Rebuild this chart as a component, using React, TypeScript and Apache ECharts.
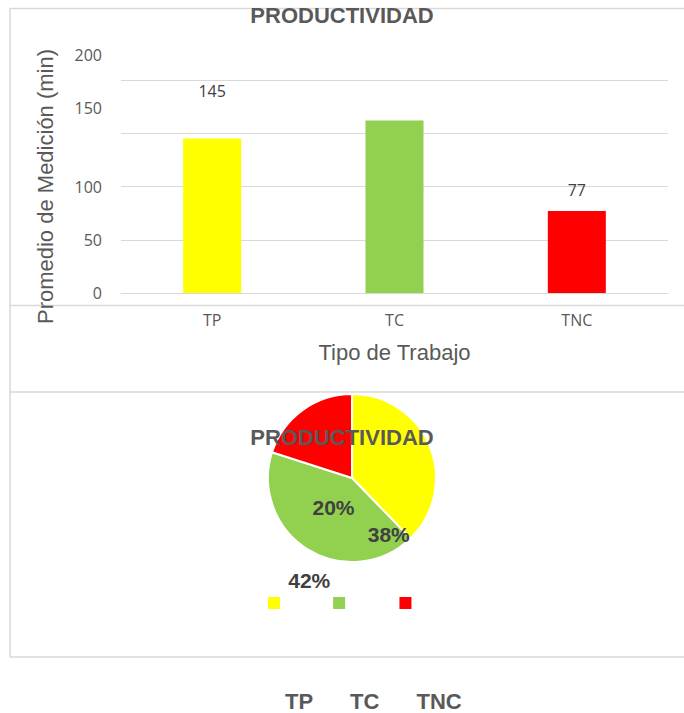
import React, { useEffect, useRef } from "react";
import * as echarts from "echarts";

const categories = ["TP", "TC", "TNC"];
const values = [145, 162, 77];
const colors = ["#FFFF00", "#92D050", "#FF0000"];
const barLabelShown = [true, false, true];
const barLabelOffsets = [[0, -35], [0, 0], [0, -8]];
const pieLabelOffsets = [[-5, 73], [-19, 64], [8, 66]];
const chartTitle = "PRODUCTIVIDAD";
const xAxisName = "Tipo de Trabajo";
const yAxisName = "Promedio de Medición (min)";

export default function App() {
  const ref = useRef<HTMLDivElement>(null);
  useEffect(() => {
    if (!ref.current) return;
    const chart = echarts.init(ref.current, null, { renderer: "svg" });
    const gray = "#595959";
    const dark = "#404040";
    const border = "#d9d9d9";
    const tickFont = { fontFamily: "Open Sans", fontSize: 16, color: gray };
    const legendFont = { fontFamily: "Liberation Sans", fontWeight: "bold", fontSize: 22, color: gray };
    const option: any = {
      animation: false,
      backgroundColor: "#ffffff",
      title: [
        {
          text: chartTitle,
          left: "center",
          top: -1,
          textStyle: { fontFamily: "Liberation Sans", fontWeight: "bold", fontSize: 22, color: gray },
        },
        {
          text: chartTitle,
          left: "center",
          top: 421,
          textStyle: { fontFamily: "Liberation Sans", fontWeight: "bold", fontSize: 22, color: gray },
        },
      ],
      graphic: [
        { type: "line", z: -10, shape: { x1: 10, y1: 8.5, x2: 684, y2: 8.5 }, style: { stroke: border, lineWidth: 1.5 } },
        { type: "line", z: -10, shape: { x1: 10, y1: 8, x2: 10, y2: 657 }, style: { stroke: border, lineWidth: 1.5 } },
        { type: "line", z: -10, shape: { x1: 10, y1: 305.5, x2: 684, y2: 305.5 }, style: { stroke: border, lineWidth: 1.5 } },
        { type: "line", z: -10, shape: { x1: 10, y1: 392, x2: 684, y2: 392 }, style: { stroke: border, lineWidth: 1.5 } },
        { type: "line", z: -10, shape: { x1: 10, y1: 657, x2: 684, y2: 657 }, style: { stroke: border, lineWidth: 1.5 } },
      ],
      grid: { left: 121, right: 16, top: 80, bottom: 420 },
      xAxis: {
        type: "category",
        data: categories,
        axisLine: { lineStyle: { color: border } },
        axisTick: { show: false },
        axisLabel: { margin: 19, ...tickFont },
        name: xAxisName,
        nameLocation: "middle",
        nameGap: 48,
        nameTextStyle: { fontFamily: "Liberation Sans", fontSize: 22, color: gray },
      },
      yAxis: {
        type: "value",
        min: 0,
        max: 200,
        interval: 50,
        splitLine: { lineStyle: { color: border } },
        axisLine: { show: false },
        axisTick: { show: false },
        axisLabel: {
          margin: 19,
          ...tickFont,
          formatter: (v: number) => (v >= 150 ? `{up|${v}}` : `{n|${v}}`),
          rich: {
            up: { ...tickFont, padding: [0, 0, 50, 0] },
            n: { ...tickFont },
          },
        },
        name: yAxisName,
        nameLocation: "middle",
        nameGap: 65,
        nameRotate: 90,
        nameTextStyle: { fontFamily: "Liberation Sans", fontSize: 22, color: gray },
      },
      legend: {
        data: categories,
        left: 268,
        top: 597,
        padding: 0,
        icon: "rect",
        itemWidth: 12,
        itemHeight: 12,
        itemGap: 20,
        itemStyle: { borderWidth: 0 },
        formatter: (name: string) => `{a|${name}}`,
        textStyle: {
          ...legendFont,
          rich: { a: { ...legendFont, padding: [196, 0, 0, 0] } },
        },
      },
      series: [
        {
          type: "bar",
          barWidth: 58,
          data: values.map((v, i) => ({
            value: v,
            itemStyle: { color: colors[i] },
            label: {
              show: barLabelShown[i],
              position: "top",
              offset: barLabelOffsets[i],
              fontFamily: "Open Sans",
              fontSize: 16,
              color: dark,
            },
          })),
        },
        {
          type: "pie",
          center: [352, 478],
          radius: 84,
          itemStyle: { borderColor: "#ffffff", borderWidth: 2 },
          label: {
            show: true,
            position: "inside",
            fontFamily: "Liberation Sans",
            fontWeight: "bold",
            fontSize: 21,
            color: dark,
            formatter: (p: any) => `${Math.round(p.percent)}%`,
          },
          labelLine: { show: false },
          data: categories.map((c, i) => ({
            name: c,
            value: values[i],
            itemStyle: { color: colors[i] },
            label: { offset: pieLabelOffsets[i] },
          })),
        },
      ],
    };
    chart.setOption(option);
    return () => chart.dispose();
  }, []);
  return (
    <div
      ref={ref}
      style={{ position: "fixed", left: 0, top: 0, width: 684, height: 713 }}
    />
  );
}
